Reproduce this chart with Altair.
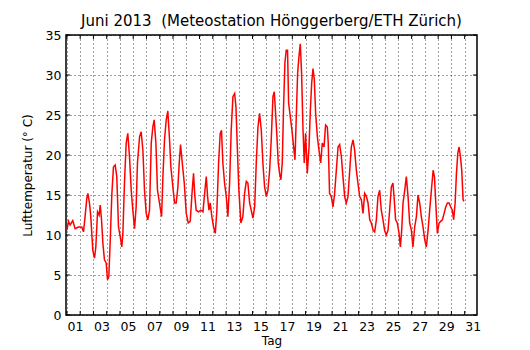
import altair as alt
import pandas as pd

# time in days since 1 June 2013 00:00, temperature in deg C
DAY = [0.0, 0.12, 0.24, 0.44, 0.62, 0.87, 1.12, 1.25, 1.37, 1.50, 1.58, 1.70, 1.80, 1.95,
       2.08, 2.18, 2.31, 2.43, 2.51, 2.61, 2.71, 2.83, 2.96, 3.06, 3.16, 3.26, 3.39, 3.51,
       3.64, 3.76, 3.89, 4.02, 4.14, 4.22, 4.34, 4.47, 4.59, 4.72, 4.85, 4.97, 5.10, 5.22,
       5.32, 5.48, 5.60, 5.73, 5.85, 5.98, 6.10, 6.23, 6.36, 6.48, 6.58, 6.71, 6.83, 6.98,
       7.14, 7.24, 7.36, 7.49, 7.61, 7.74, 7.84, 7.99, 8.12, 8.24, 8.37, 8.47, 8.57, 8.70,
       8.85, 9.00, 9.15, 9.30, 9.45, 9.55, 9.65, 9.75, 9.93, 10.10, 10.26, 10.41, 10.51,
       10.61, 10.71, 10.81, 10.93, 11.06, 11.19, 11.31, 11.44, 11.56, 11.66, 11.76, 11.89,
       12.02, 12.14, 12.27, 12.39, 12.52, 12.65, 12.75, 12.85, 12.97, 13.12, 13.27, 13.40,
       13.53, 13.65, 13.78, 13.90, 14.03, 14.16, 14.28, 14.41, 14.53, 14.66, 14.78, 14.91,
       15.04, 15.16, 15.29, 15.41, 15.54, 15.64, 15.74, 15.84, 15.94, 16.04, 16.14, 16.24,
       16.34, 16.44, 16.54, 16.64, 16.72, 16.85, 16.97, 17.10, 17.20, 17.30, 17.40, 17.50,
       17.60, 17.70, 17.80, 17.90, 18.00, 18.13, 18.26, 18.36, 18.46, 18.56, 18.66, 18.76,
       18.89, 19.01, 19.14, 19.26, 19.39, 19.51, 19.64, 19.71, 19.81, 19.94, 20.07, 20.19,
       20.32, 20.45, 20.57, 20.70, 20.82, 20.95, 21.07, 21.20, 21.33, 21.45, 21.58, 21.70,
       21.83, 21.95, 22.08, 22.21, 22.33, 22.46, 22.59, 22.71, 22.84, 22.96, 23.09, 23.21,
       23.34, 23.46, 23.59, 23.71, 23.84, 23.96, 24.09, 24.22, 24.34, 24.47, 24.59, 24.69,
       24.79, 24.92, 25.05, 25.15, 25.25, 25.35, 25.48, 25.60, 25.73, 25.85, 25.98, 26.10,
       26.23, 26.36, 26.48, 26.61, 26.73, 26.86, 26.99, 27.11, 27.24, 27.36, 27.49, 27.62,
       27.72, 27.82, 27.94, 28.07, 28.19, 28.32, 28.45, 28.57, 28.70, 28.82, 28.95, 29.07,
       29.17, 29.28, 29.38, 29.48, 29.58, 29.68, 29.78, 29.88, 29.95]
TEMP = [10.6, 11.7, 11.25, 11.8, 10.8, 11.0, 11.0, 10.4, 12.3, 14.6, 15.2, 14.0, 12.3, 8.1,
        7.1, 8.5, 12.9, 12.5, 13.75, 11.9, 9.0, 6.9, 6.5, 4.4, 4.8, 9.0, 15.2, 18.5,
        18.75, 17.3, 11.0, 9.8, 8.5, 10.2, 16.5, 21.5, 22.7, 19.8, 15.6, 13.1, 10.8, 13.5,
        19.0, 22.3, 22.9, 20.6, 15.6, 12.7, 11.9, 13.1, 21.5, 23.5, 24.4, 21.5, 15.6, 14.0,
        12.3, 17.3, 21.9, 24.4, 25.5, 21.9, 18.5, 16.0, 14.0, 14.0, 16.0, 19.0, 21.3, 19.0,
        16.5, 12.7, 11.5, 11.7, 15.6, 17.7, 14.8, 13.1, 12.9, 13.1, 12.9, 15.6, 17.3,
        14.8, 13.1, 14.0, 12.3, 11.0, 10.2, 13.1, 19.0, 22.7, 23.1, 19.0, 16.5,
        14.8, 12.3, 16.5, 23.1, 27.3, 27.7, 26.0, 21.0, 15.6, 11.5, 12.3, 15.2,
        16.7, 16.5, 14.0, 13.1, 12.1, 13.5, 19.0, 23.5, 25.2, 23.1, 19.0, 16.0,
        14.8, 15.6, 18.1, 21.9, 27.3, 27.9, 25.2, 22.3, 19.0, 17.7, 16.9, 19.0,
        26.0, 31.5, 33.1, 33.1, 26.5, 24.8, 23.1, 21.0, 19.4, 24.8, 30.2, 32.3,
        33.9, 30.2, 23.5, 19.0, 22.7, 17.7, 21.0, 25.6, 29.0, 30.8, 29.4, 25.2,
        22.3, 20.6, 19.0, 21.5, 21.0, 23.75, 23.5, 21.5, 15.2, 14.8, 13.5, 15.2,
        18.1, 21.0, 21.3, 19.8, 17.3, 14.8, 14.0, 14.8, 18.1, 21.0, 21.9, 20.6,
        18.1, 16.5, 14.8, 14.4, 12.7, 15.2, 14.8, 14.0, 11.9, 11.5, 10.6, 10.4,
        11.9, 14.8, 15.6, 13.1, 11.9, 10.6, 10.0, 10.6, 13.1, 16.0, 16.5, 14.4,
        11.9, 11.5, 10.2, 8.5, 10.6, 14.0, 15.6, 17.3, 14.8, 11.5, 10.6, 8.5,
        11.0, 12.3, 15.0, 14.0, 12.3, 11.0, 9.4, 8.5, 10.6, 13.1, 15.6, 18.1,
        17.3, 14.0, 10.2, 11.5, 11.7, 11.9, 12.7, 13.5, 14.0, 14.0, 13.5, 13.1,
        11.9, 14.0, 17.7, 20.2, 21.0, 19.8, 18.1, 14.4, 14.2]

X_TICKS = list(range(0, 31))          # day boundaries (1 June ... 1 July)
Y_TICKS = [0, 5, 10, 15, 20, 25, 30, 35]

TITLE = "Juni 2013\u00a0 (Meteostation Hönggerberg/ETH Zürich)"
FONT = "DejaVu Sans"
W, H = 411, 280

df = pd.DataFrame({"t": DAY, "temp": TEMP})
xt = pd.DataFrame({"t": X_TICKS})
yt = pd.DataFrame({"temp": Y_TICKS})

xscale = alt.Scale(domain=[-0.07, 30.93], nice=False, zero=False)
yscale = alt.Scale(domain=[0, 35], nice=False, zero=False)

xaxis = alt.Axis(
    values=X_TICKS, title="Tag", grid=True, ticks=False, domain=False,
    labelExpr="datum.value % 2 == 0 ? (datum.value < 9 ? '0' : '') + (datum.value + 1) : ''",
    labelOffset=8, labelPadding=5, labelFlush=False, labelOverlap=False,
    titlePadding=3, titleFontSize=12)
yaxis = alt.Axis(
    values=Y_TICKS, title="Lufttemperatur (° C)", grid=True, ticks=False,
    domain=False, labelPadding=5, titlePadding=11, titleFontSize=12)

line = alt.Chart(df).mark_line(color="#ff0000", strokeWidth=1.5).encode(
    x=alt.X("t:Q", scale=xscale, axis=xaxis),
    y=alt.Y("temp:Q", scale=yscale, axis=yaxis),
)

tick_bottom = alt.Chart(xt).mark_rule(color="black").encode(
    x=alt.X("t:Q", scale=xscale, axis=xaxis), y=alt.value(H), y2=alt.value(H - 4))
tick_top = alt.Chart(xt).mark_rule(color="black").encode(
    x=alt.X("t:Q", scale=xscale, axis=xaxis), y=alt.value(0), y2=alt.value(4))
tick_left = alt.Chart(yt).mark_rule(color="black").encode(
    y=alt.Y("temp:Q", scale=yscale, axis=yaxis), x=alt.value(0), x2=alt.value(4))
tick_right = alt.Chart(yt).mark_rule(color="black").encode(
    y=alt.Y("temp:Q", scale=yscale, axis=yaxis), x=alt.value(W), x2=alt.value(W - 4))

chart = alt.layer(line, tick_bottom, tick_top, tick_left, tick_right).properties(
    width=W, height=H,
    title=alt.TitleParams(TITLE, font=FONT, fontSize=15, fontWeight="normal",
                          color="black", offset=0),
    autosize=alt.AutoSizeParams(type="none"),
    padding={"left": 58, "top": 27, "right": 40, "bottom": 34},
).configure_view(
    stroke="black", strokeWidth=1.5
).configure_axis(
    labelFont=FONT, titleFont=FONT, labelFontSize=12.5,
    labelColor="black", titleColor="black", titleFontWeight="normal",
    gridColor="black", gridDash=[1, 3], gridWidth=1, gridOpacity=0.75,
)

chart.save("out.html", embed_options={"renderer": "svg", "actions": False})
